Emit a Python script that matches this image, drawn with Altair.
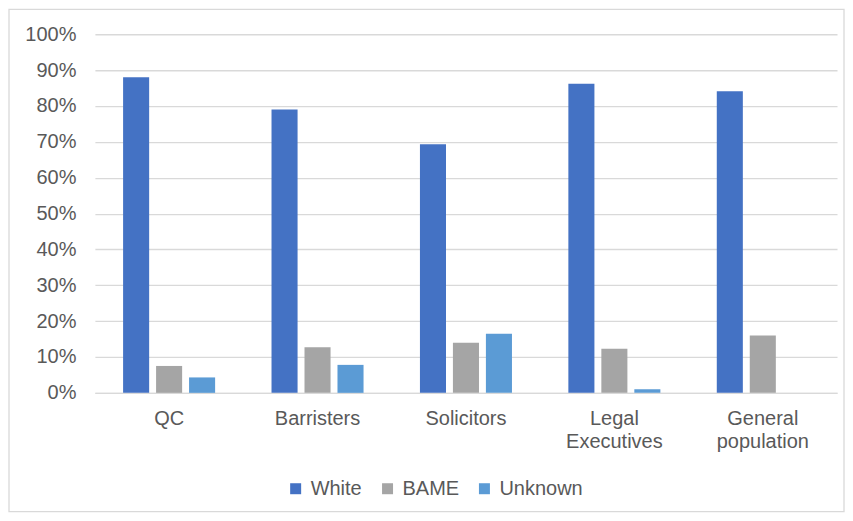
import altair as alt
import pandas as pd

categories = ["QC", "Barristers", "Solicitors", "Legal Executives", "General population"]
groups = ["White", "BAME", "Unknown"]
white = [0.88, 0.79, 0.693, 0.862, 0.841]
bame = [0.075, 0.127, 0.140, 0.123, 0.160]
unknown = [0.043, 0.078, 0.165, 0.010, None]
colors = ["#4472C4", "#A5A5A5", "#5B9BD5"]

rows = []
for i, c in enumerate(categories):
    for g, vals in zip(groups, [white, bame, unknown]):
        if vals[i] is not None:
            rows.append({"category": c, "group": g, "value": vals[i]})
df = pd.DataFrame(rows)

FONT = "Liberation Sans"
TXT = "#595959"

bars = alt.Chart(df).mark_bar().encode(
    x=alt.X("category:N", sort=categories, title=None,
            scale=alt.Scale(paddingInner=0, paddingOuter=0),
            axis=alt.Axis(labelAngle=0, ticks=False, labelPadding=16,
                          labelExpr="split(datum.label, ' ')",
                          labelLineHeight=23, domainColor="#d9d9d9",
                          domainWidth=1.3)),
    xOffset=alt.XOffset("group:N", sort=groups,
                        scale=alt.Scale(domain=groups, paddingInner=0.21, paddingOuter=0.855)),
    y=alt.Y("value:Q", title=None,
            scale=alt.Scale(domain=[0, 1]),
            axis=alt.Axis(format=".0%", values=[i / 10 for i in range(11)],
                          labelOverlap=False,
                          ticks=False, domain=False, labelPadding=19,
                          gridColor="#d9d9d9", gridWidth=1.3)),
    color=alt.Color("group:N", sort=groups,
                    scale=alt.Scale(domain=groups, range=colors),
                    legend=alt.Legend(title=None, orient="none", direction="horizontal",
                                      legendX=191, legendY=445, symbolType="square",
                                      symbolSize=121, symbolStrokeWidth=0,
                                      labelOffset=5, columnPadding=15)),
)

frame = alt.Chart(pd.DataFrame({"a": [0]})).mark_rect(
    fill=None, stroke="#d9d9d9", strokeWidth=1.3
).encode(x=alt.value(-86), x2=alt.value(750), y=alt.value(-25), y2=alt.value(478))

chart = alt.layer(frame, bars).properties(
    width=743, height=359,
    padding={"left": 87, "top": 26, "right": 8, "bottom": 121},
    autosize=alt.AutoSizeParams(type="none"),
).configure_view(stroke=None).configure_axis(
    labelFont=FONT, labelFontSize=20, labelColor=TXT
).configure_legend(
    labelFont=FONT, labelFontSize=20, labelColor=TXT
)

chart.save("out.html", embed_options={"renderer": "svg", "actions": False})
